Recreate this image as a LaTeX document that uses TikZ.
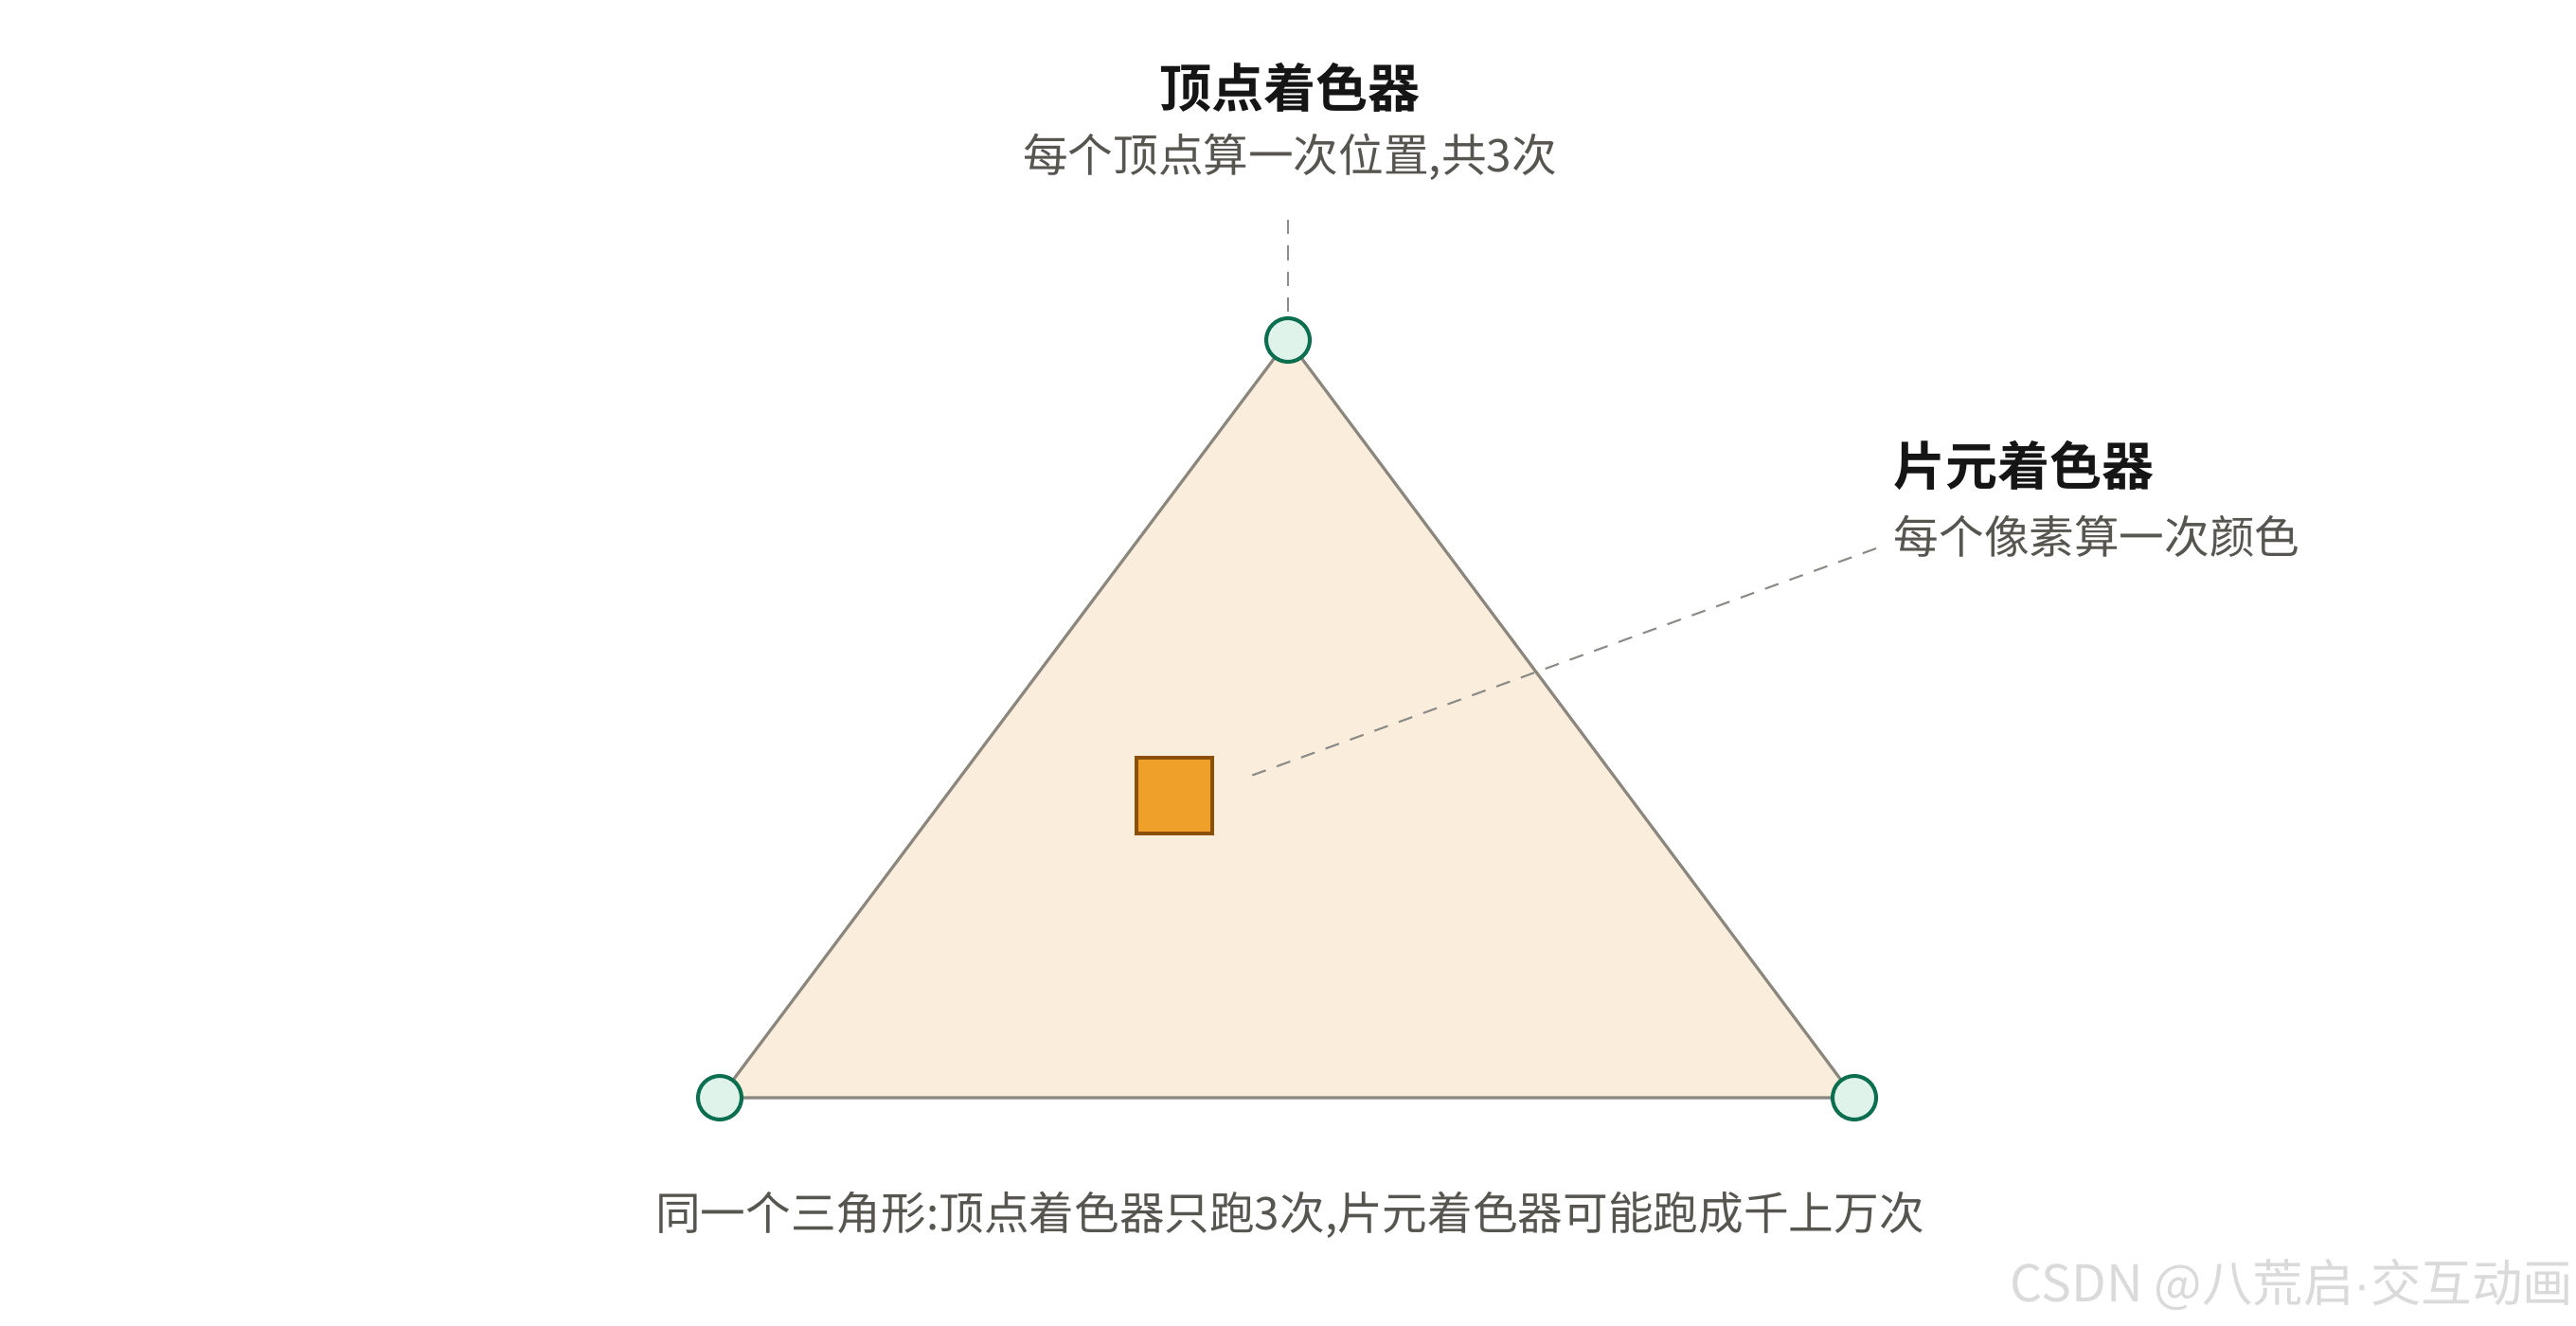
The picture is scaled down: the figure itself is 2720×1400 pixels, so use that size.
\documentclass[tikz,border=0pt]{standalone}
\usepackage{fontspec}
\setmainfont{Noto Sans CJK SC}
\newfontfamily\cjkbold{Noto Sans CJK SC Bold}
\newfontfamily\latdot{Liberation Sans}
\definecolor{titlec}{HTML}{151515}
\definecolor{subc}{HTML}{57554F}
\definecolor{trifill}{HTML}{FAEDDB}
\definecolor{tristroke}{HTML}{8B877E}
\definecolor{vfill}{HTML}{E0F3EB}
\definecolor{vstroke}{HTML}{0B6E4F}
\definecolor{sqfill}{HTML}{EFA02A}
\definecolor{sqstroke}{HTML}{8A4F0A}
\definecolor{dashc}{HTML}{8C8C88}
\definecolor{wmc}{HTML}{DADADA}
\tikzset{
  x=0.01cm, y=-0.01cm,
  tri/.style={draw=tristroke, fill=trifill, line width=0.9pt, line join=round},
  vert/.style={circle, draw=vstroke, fill=vfill, line width=1.15pt, minimum size=0.46cm, inner sep=0pt},
  frag/.style={rectangle, draw=sqstroke, fill=sqfill, line width=1.15pt, minimum size=0.8cm, inner sep=0pt},
  lead/.style={draw=dashc, line width=0.6pt, dash pattern=on 4.3pt off 3.5pt},
  title/.style={inner sep=0pt, text=titlec, font=\cjkbold\fontsize{15.65pt}{18pt}\selectfont},
  sub/.style={inner sep=0pt, text=subc, font=\fontsize{13.55pt}{16pt}\selectfont},
  wm/.style={inner sep=0pt, text=wmc, font=\fontsize{15.2pt}{18pt}\selectfont}
}
\begin{document}
\begin{tikzpicture}
\useasboundingbox (0,0) rectangle (2720,1400);
\coordinate (pA) at (1360,359);
\coordinate (pB) at (760,1159);
\coordinate (pC) at (1958,1159);
\draw[tri] (pA) -- (pB) -- (pC) -- cycle;
% leaders
\coordinate (vtop) at (1360,232);
\coordinate (ftxt) at (1981,579);
\coordinate (fdot) at (1321,819);
% nodes
\node[vert] (vA) at (pA) {};
\node[vert] (vB) at (pB) {};
\node[vert] (vC) at (pC) {};
\node[frag] (sq) at (1240,840) {};
\draw[lead] (vtop) -- (vA.north);
\draw[lead] (ftxt) -- (fdot);
% texts
\node[title] (t1) at (1362,92) {顶点着色器};
\node[sub] (s1) at (1362,166) {每个顶点算一次位置,共3次};
\node[title, anchor=west] (t2) at (1999,492) {片元着色器};
\node[sub, anchor=west] (s2) at (1999,566) {每个像素算一次颜色};
\node[sub] (cap) at (1362,1283) {同一个三角形:顶点着色器只跑3次,片元着色器可能跑成千上万次};
\node[wm, anchor=east] (wmk) at (2718,1356) {CSDN @八荒启{\latdot ·}交互动画};
\end{tikzpicture}
\end{document}
